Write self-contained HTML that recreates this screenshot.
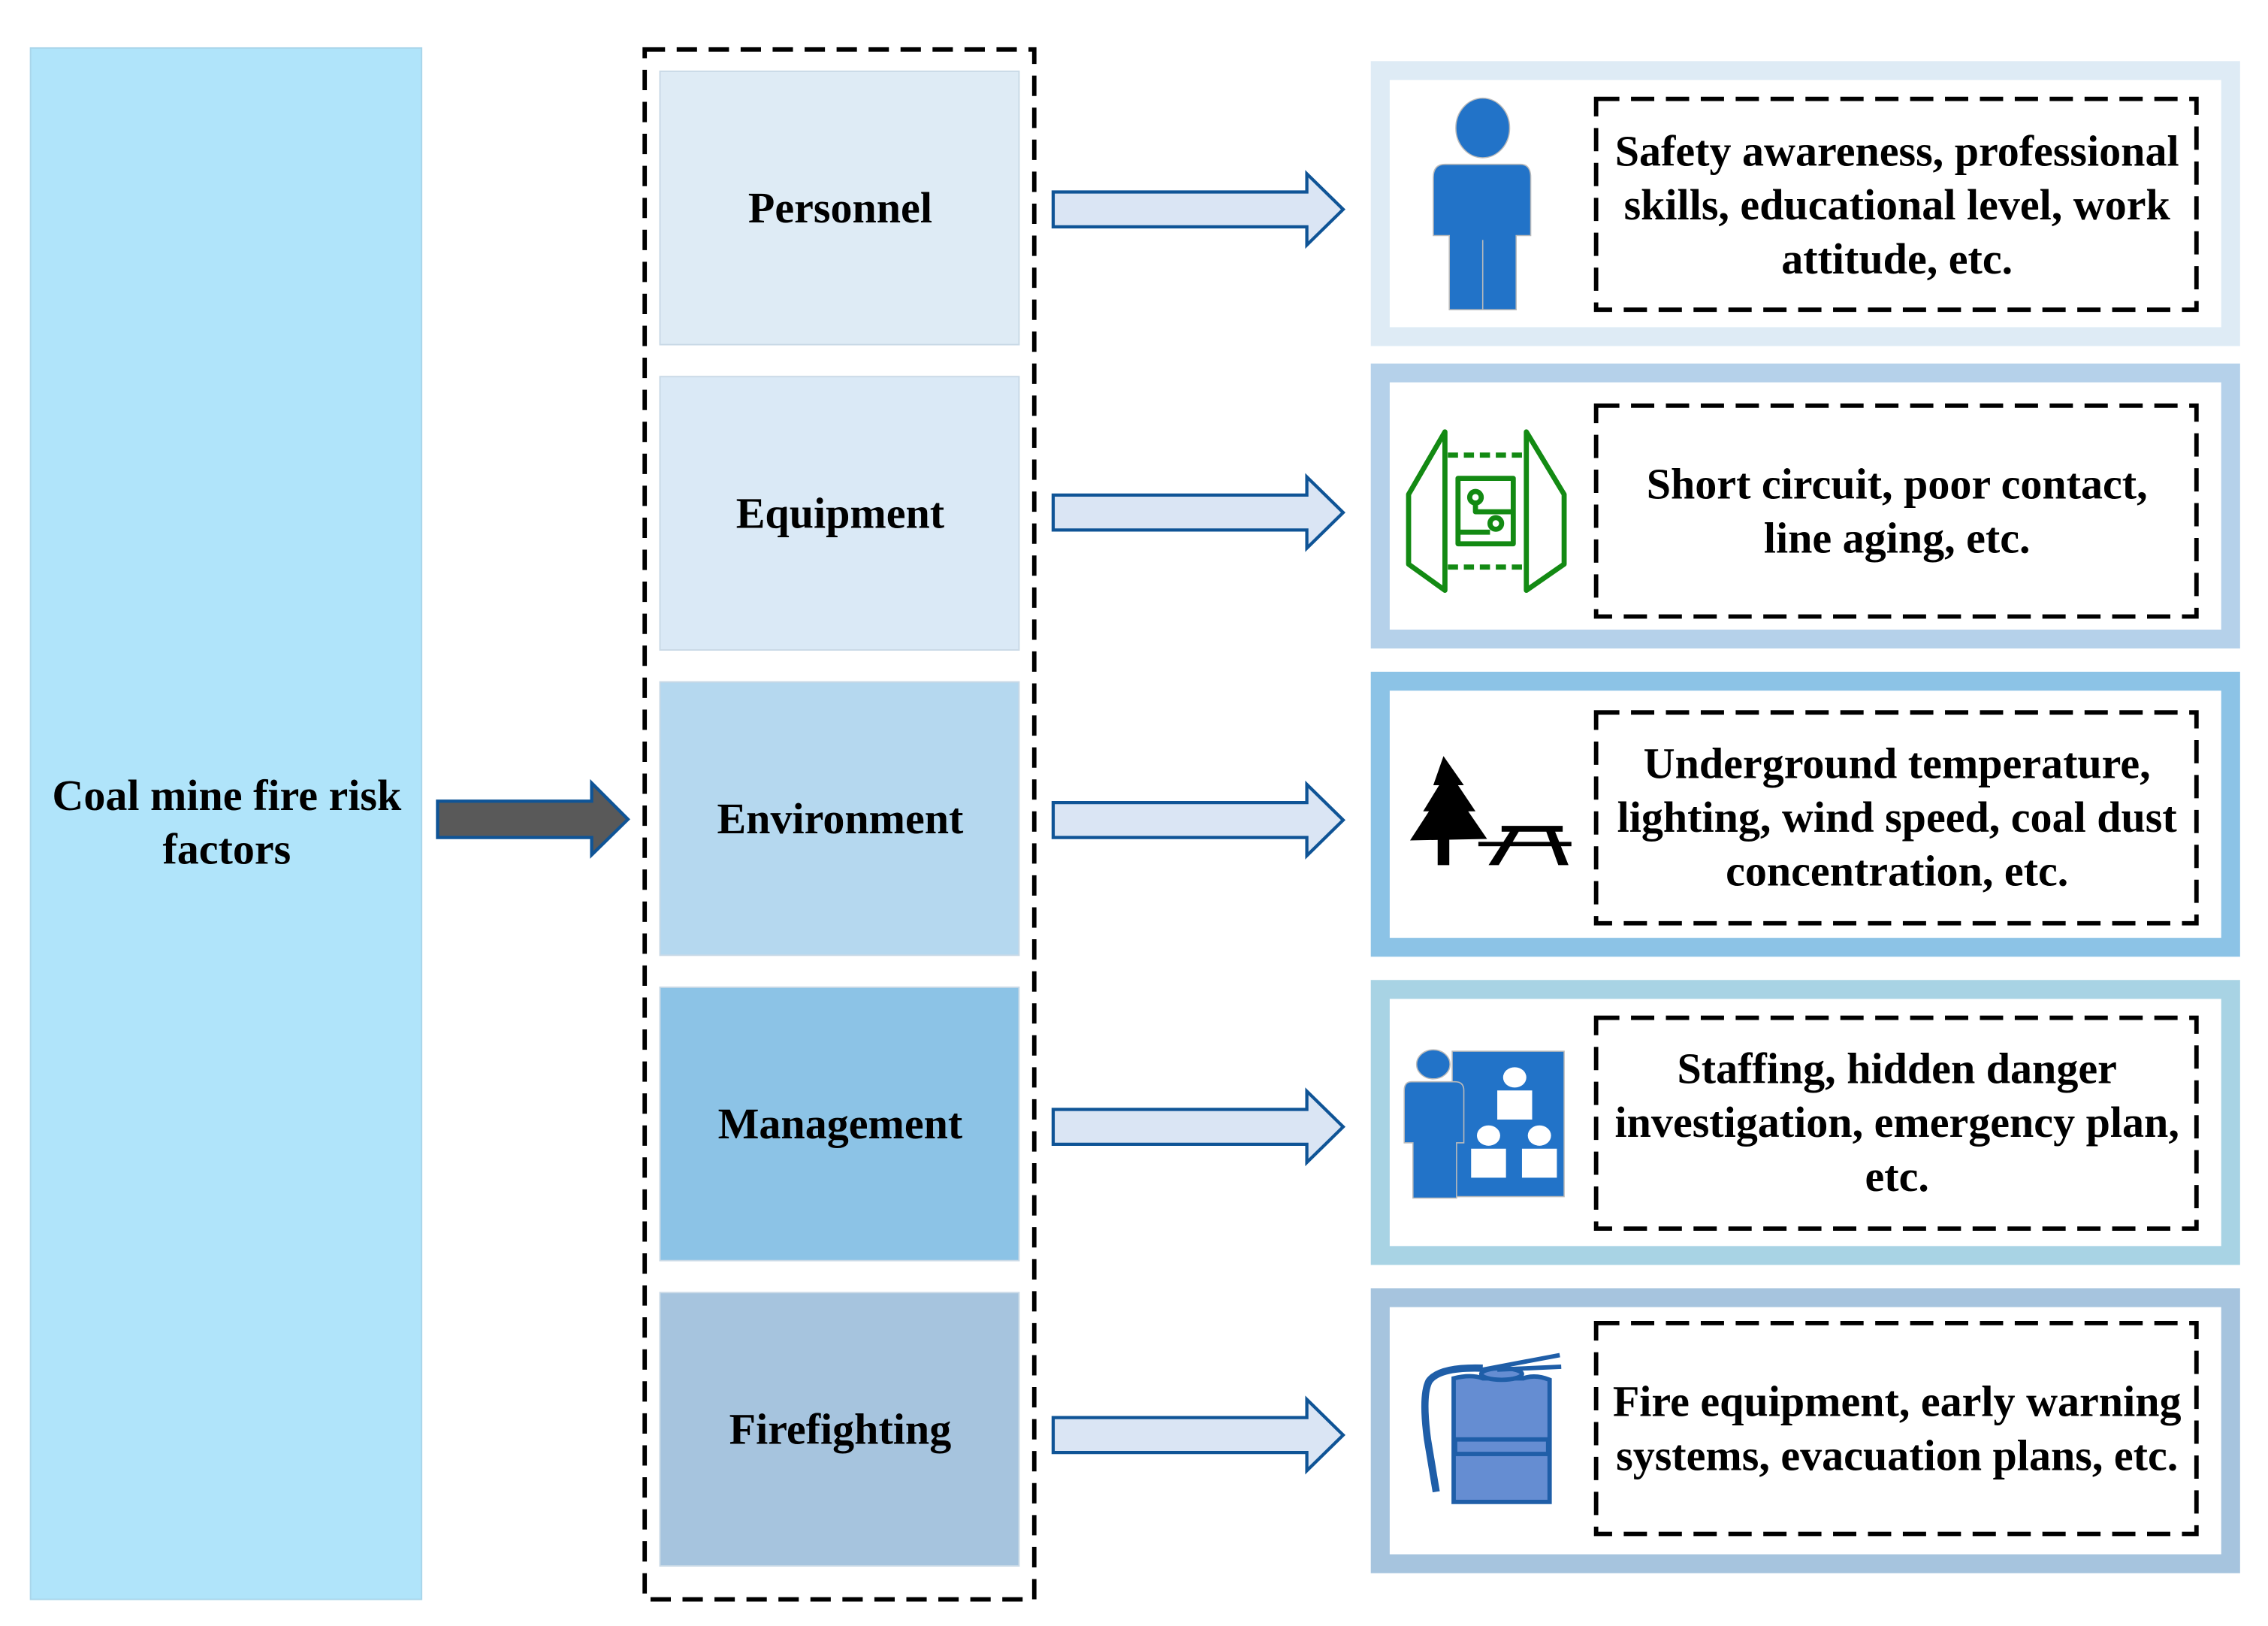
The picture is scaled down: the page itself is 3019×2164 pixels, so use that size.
<!DOCTYPE html>
<html><head><meta charset="utf-8"><style>
html,body{margin:0;padding:0;background:#fff}
svg{display:block}
text{font-family:"Liberation Serif",serif;font-weight:bold;font-size:30px;fill:#000;text-anchor:middle}
</style></head><body>
<svg width="3019" height="2164" viewBox="0 0 1560.2 1118.3" xmlns="http://www.w3.org/2000/svg">
<defs>
<g id="arr"><path d="M724.5,-12 L899,-12 L899,-24.5 L924,0 L899,24.5 L899,12 L724.5,12 Z" fill="#dae5f4" stroke="#0f5496" stroke-width="2.2" stroke-linejoin="miter"/></g>
</defs>
<rect x="21" y="33" width="269" height="1067" fill="#b0e4fa" stroke="#a9d5ea" stroke-width="1"/>
<text x="156" y="557">Coal mine fire risk</text>
<text x="156" y="594">factors</text>
<path d="M301,551 L407,551 L407,538.5 L432,563.5 L407,588 L407,576 L301,576 Z" fill="#595959" stroke="#0f5496" stroke-width="2.2"/>
<rect x="443.5" y="34" width="268" height="1066" fill="none" stroke="#000" stroke-width="3" stroke-dasharray="14,8"/>
<rect x="454" y="49" width="247" height="188" fill="#deebf5" stroke="#c9d9e6"/>
<rect x="454" y="259" width="247" height="188" fill="#dae9f6" stroke="#c9d9e6"/>
<rect x="454" y="469" width="247" height="188" fill="#b5d8ef" stroke="#c9d9e6"/>
<rect x="454" y="679" width="247" height="188" fill="#8cc3e6" stroke="#c9d9e6"/>
<rect x="454" y="889" width="247" height="188" fill="#a6c4de" stroke="#c9d9e6"/>
<text x="578" y="153">Personnel</text>
<text x="578" y="363">Equipment</text>
<text x="578" y="573">Environment</text>
<text x="578" y="783">Management</text>
<text x="578" y="993">Firefighting</text>
<use href="#arr" transform="translate(0,144)"/>
<use href="#arr" transform="translate(0,352.5)"/>
<use href="#arr" transform="translate(0,564)"/>
<use href="#arr" transform="translate(0,775)"/>
<use href="#arr" transform="translate(0,987)"/>
<g fill="#fff" stroke-width="13">
<rect x="949.5" y="48.5" width="585" height="183" stroke="#deebf5"/>
<rect x="949.5" y="256.5" width="585" height="183" stroke="#b5d1ea"/>
<rect x="949.5" y="468.5" width="585" height="183" stroke="#8cc3e6"/>
<rect x="949.5" y="680.5" width="585" height="183" stroke="#a8d3e4"/>
<rect x="949.5" y="892.5" width="585" height="183" stroke="#a6c4de"/>
</g>
<g fill="none" stroke="#000" stroke-width="3" stroke-dasharray="16,8">
<rect x="1098" y="68" width="413" height="145"/>
<rect x="1098" y="279" width="413" height="145"/>
<rect x="1098" y="490" width="413" height="145"/>
<rect x="1098" y="700" width="413" height="145"/>
<rect x="1098" y="910" width="413" height="145"/>
</g>
<text x="1305" y="114">Safety awareness, professional</text>
<text x="1305" y="151">skills, educational level, work</text>
<text x="1305" y="188">attitude, etc.</text>
<text x="1305" y="343">Short circuit, poor contact,</text>
<text x="1305" y="380">line aging, etc.</text>
<text x="1305" y="535">Underground temperature,</text>
<text x="1305" y="572">lighting, wind speed, coal dust</text>
<text x="1305" y="609">concentration, etc.</text>
<text x="1305" y="745">Staffing, hidden danger</text>
<text x="1305" y="782">investigation, emergency plan,</text>
<text x="1305" y="819">etc.</text>
<text x="1305" y="974">Fire equipment, early warning</text>
<text x="1305" y="1011">systems, evacuation plans, etc.</text>
<g fill="#2273c8" stroke="#bbb" stroke-width="0.8">
<ellipse cx="1020" cy="88" rx="18.5" ry="20.5"/>
<path d="M994,113 L1046,113 Q1053,113 1053,122 L1053,162 L1043,162 L1043,213 L997,213 L997,162 L986,162 L986,122 Q986,113 994,113 Z"/>
<line x1="1020" y1="165" x2="1020" y2="213"/>
</g>
<g fill="none" stroke="#138a13" stroke-width="3.5" stroke-linejoin="round">
<path d="M994,297 L969,340 L969,388 L994,406 Z"/>
<path d="M1050,297 L1076,340 L1076,388 L1050,406 Z"/>
<line x1="996" y1="313" x2="1048" y2="313" stroke-dasharray="7,4"/>
<line x1="996" y1="390" x2="1048" y2="390" stroke-dasharray="7,4"/>
<rect x="1003" y="329" width="38" height="45"/>
<circle cx="1015" cy="342" r="4"/>
<circle cx="1029" cy="360" r="4"/>
<path d="M1015,346 L1015,352 L1041,352 M1003,366 L1025,366"/>
</g>
<g fill="#000">
<path d="M993,520 L1007,540 L1003,540 L1015,558 L1010,558 L1023,577 L970,578 L983,558 L979,558 L990,540 L986,540 Z"/>
<rect x="989" y="576" width="8" height="19"/>
<rect x="1033" y="568" width="42" height="4"/>
<rect x="1017" y="579" width="64" height="3"/>
<path d="M1040,570 L1046,570 L1031,595 L1024,595 Z M1063,570 L1069,570 L1079,595 L1072,595 Z"/>
</g>
<rect x="999" y="723" width="77" height="100" fill="#2273c8" stroke="#bbb" stroke-width="0.8"/>
<g fill="#2273c8" stroke="#bbb" stroke-width="0.8">
<ellipse cx="986" cy="732" rx="11.5" ry="10"/>
<path d="M971,744 L1001,744 Q1007,744 1007,750 L1007,786 L1002,786 L1002,824 L972,824 L972,786 L966,786 L966,750 Q966,744 971,744 Z"/>
</g>
<g fill="#fff">
<ellipse cx="1042" cy="741" rx="8" ry="7"/><path d="M1030,750 L1054,750 L1054,770 L1030,770 Z"/>
<ellipse cx="1024" cy="781" rx="8" ry="7"/><path d="M1012,790 L1036,790 L1036,810 L1012,810 Z"/>
<ellipse cx="1059" cy="781" rx="8" ry="7"/><path d="M1047,790 L1071,790 L1071,810 L1047,810 Z"/>
</g>
<g stroke="#1f5ea8" stroke-width="3" fill="#658dd2">
<path d="M1000,948 Q1012,945 1020,948 L1048,948 Q1056,945 1066,949 L1066,1033 L1000,1033 Z"/>
<rect x="1001" y="990" width="64" height="10"/>
<ellipse cx="1033" cy="945" rx="14" ry="4"/>
<path d="M1020,942 L1073,932 M1030,942 L1074,940" fill="none"/>
<path d="M1020,941 Q990,940 983,950 Q978,960 982,990 L988,1026" fill="none" stroke-width="5"/>
</g>
</svg>
</body></html>
